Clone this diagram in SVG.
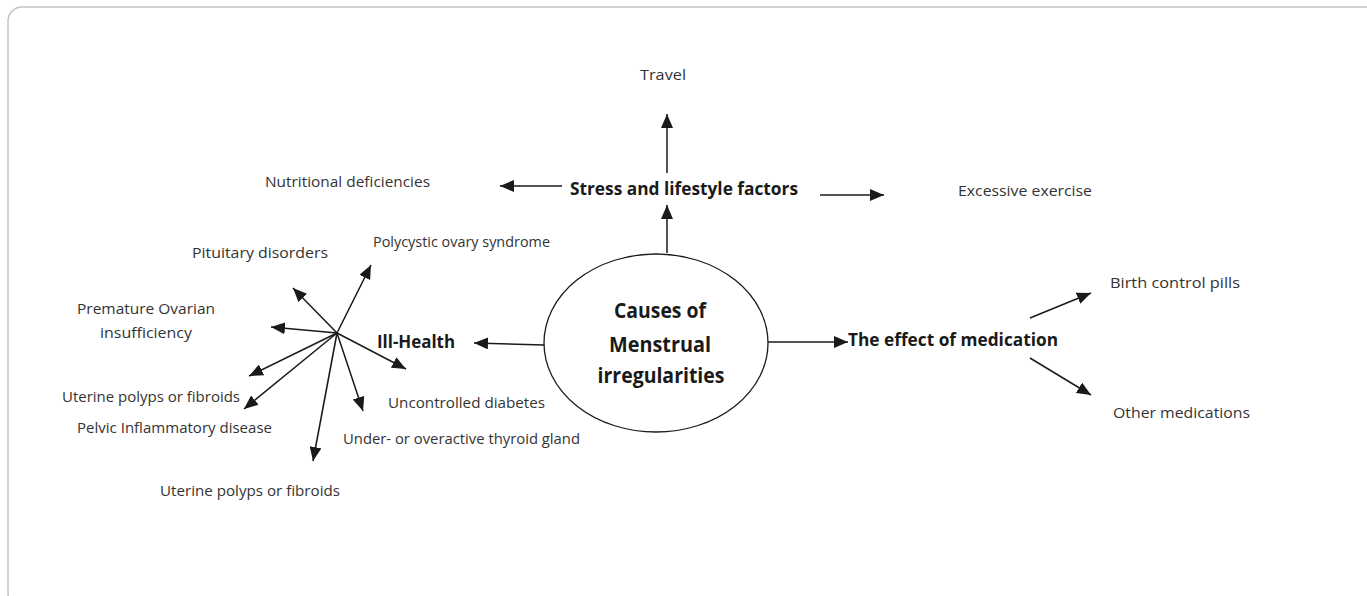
<svg xmlns="http://www.w3.org/2000/svg" width="1367" height="596" viewBox="0 0 1367 596">
<style>
.t{font-family:"Open Sans","DejaVu Sans",sans-serif;font-size:14px;fill:#333}
.b{font-family:"Open Sans","DejaVu Sans",sans-serif;font-size:18px;font-weight:bold;fill:#1a1a1a}
.c{font-family:"Open Sans","DejaVu Sans",sans-serif;font-size:21px;font-weight:bold;fill:#1a1a1a}
.l{stroke:#1a1a1a;stroke-width:1.5;fill:none;marker-end:url(#ah)}
</style>
<defs>
<marker id="ah" markerUnits="userSpaceOnUse" markerWidth="14" markerHeight="12" refX="14" refY="6" orient="auto">
<path d="M0,0 L14,6 L0,12 z" fill="#1a1a1a"/>
</marker>
</defs>
<rect x="8" y="7" width="1370" height="600" rx="14" fill="#fff" stroke="#c4c4c4" stroke-width="1.5"/>
<g id="center">
<ellipse cx="656" cy="343" rx="112" ry="89" fill="#fff" stroke="#1a1a1a" stroke-width="1.3"/>
<text class="c" x="660" y="318" text-anchor="middle" textLength="92" lengthAdjust="spacingAndGlyphs">Causes of</text>
<text class="c" x="660" y="352" text-anchor="middle" textLength="102" lengthAdjust="spacingAndGlyphs">Menstrual</text>
<text class="c" x="661" y="383" text-anchor="middle" textLength="127" lengthAdjust="spacingAndGlyphs">irregularities</text>
</g>
<g id="stress"><text class="b" x="570" y="195" textLength="228" lengthAdjust="spacingAndGlyphs">Stress and lifestyle factors</text></g>
<g id="travel"><text class="t" x="640" y="80" textLength="46" lengthAdjust="spacingAndGlyphs">Travel</text></g>
<g id="nutrition"><text class="t" x="265" y="187" textLength="165" lengthAdjust="spacingAndGlyphs">Nutritional deficiencies</text></g>
<g id="exercise"><text class="t" x="958" y="196" textLength="134" lengthAdjust="spacingAndGlyphs">Excessive exercise</text></g>
<g id="illhealth"><text class="b" x="377" y="348" textLength="78" lengthAdjust="spacingAndGlyphs">Ill-Health</text></g>
<g id="medication"><text class="b" x="848" y="346" textLength="210" lengthAdjust="spacingAndGlyphs">The effect of medication</text></g>
<g id="birthcontrol"><text class="t" x="1110" y="288" textLength="130" lengthAdjust="spacingAndGlyphs">Birth control pills</text></g>
<g id="othermeds"><text class="t" x="1113" y="418" textLength="137" lengthAdjust="spacingAndGlyphs">Other medications</text></g>
<g id="pcos"><text class="t" x="373" y="247" textLength="177" lengthAdjust="spacingAndGlyphs">Polycystic ovary syndrome</text></g>
<g id="pituitary"><text class="t" x="192" y="258" textLength="136" lengthAdjust="spacingAndGlyphs">Pituitary disorders</text></g>
<g id="poi"><text class="t" x="77" y="314" textLength="138" lengthAdjust="spacingAndGlyphs">Premature Ovarian</text><text class="t" x="100" y="338" textLength="92" lengthAdjust="spacingAndGlyphs">insufficiency</text></g>
<g id="uterine1"><text class="t" x="62" y="402" textLength="178" lengthAdjust="spacingAndGlyphs">Uterine polyps or fibroids</text></g>
<g id="pelvic"><text class="t" x="77" y="433" textLength="195" lengthAdjust="spacingAndGlyphs">Pelvic Inflammatory disease</text></g>
<g id="uterine2"><text class="t" x="160" y="496" textLength="180" lengthAdjust="spacingAndGlyphs">Uterine polyps or fibroids</text></g>
<g id="diabetes"><text class="t" x="388" y="408" textLength="157" lengthAdjust="spacingAndGlyphs">Uncontrolled diabetes</text></g>
<g id="thyroid"><text class="t" x="343" y="444" textLength="237" lengthAdjust="spacingAndGlyphs">Under- or overactive thyroid gland</text></g>
<g id="connectors">
<line class="l" x1="667" y1="253" x2="667" y2="205"/>
<line class="l" x1="667" y1="173" x2="667" y2="114"/>
<line class="l" x1="562" y1="186" x2="500" y2="186"/>
<line class="l" x1="820" y1="195" x2="884" y2="195"/>
<line class="l" x1="544" y1="345" x2="474" y2="343"/>
<line class="l" x1="768" y1="342" x2="848" y2="342"/>
<line class="l" x1="1030" y1="318" x2="1091" y2="293"/>
<line class="l" x1="1030" y1="358" x2="1091" y2="395"/>
<line class="l" x1="337" y1="333" x2="293" y2="288"/>
<line class="l" x1="337" y1="333" x2="371" y2="265"/>
<line class="l" x1="337" y1="333" x2="271" y2="327"/>
<line class="l" x1="337" y1="333" x2="249" y2="376"/>
<line class="l" x1="337" y1="333" x2="244" y2="409"/>
<line class="l" x1="337" y1="333" x2="313" y2="461"/>
<line class="l" x1="337" y1="333" x2="363" y2="411"/>
<line class="l" x1="337" y1="333" x2="406" y2="369"/>
</g>
</svg>
